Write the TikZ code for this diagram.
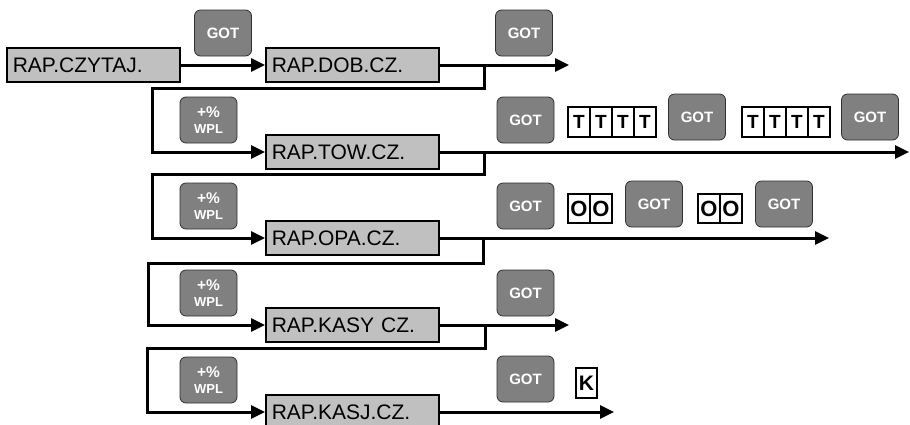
\documentclass[tikz,border=0pt]{standalone}
\usepackage{fontspec}
\setmainfont{Liberation Sans}
\usetikzlibrary{arrows.meta}
\definecolor{boxgray}{HTML}{C0C0C0}
\definecolor{keygray}{HTML}{808080}
\definecolor{keyedge}{HTML}{303030}
\begin{document}
\begin{tikzpicture}[x=1pt,y=-1pt,
  menubox/.style={draw=black, line width=1.6pt, fill=boxgray, anchor=west, minimum height=34pt, text width=161pt, inner xsep=6pt, inner ysep=0pt, align=left, font=\fontsize{21}{24}\selectfont},
  keybtn/.style={draw=keyedge, line width=0.8pt, fill=keygray, rounded corners=6pt, minimum width=57pt, minimum height=46pt, inner sep=0pt, text=white, font=\bfseries\fontsize{15}{16}\selectfont},
  wplbtn/.style={keybtn, align=center, font=\bfseries\fontsize{15.5}{16}\selectfont},
  cell/.style={draw=black, line width=1.5pt, fill=white, minimum width=22pt, minimum height=30pt, inner sep=0pt, font=\bfseries\fontsize{19}{20}\selectfont},
  flow/.style={line width=3pt, -{Triangle[length=14pt,width=13pt]}},
]
\path[use as bounding box, fill=white] (0,0) rectangle (910,424);

% menu boxes
\node[menubox] (czy) at (6,65) {RAP.CZYTAJ.};
\node[menubox] (dob) at (265,65) {RAP.DOB.CZ.};
\node[menubox] (tow) at (265,152) {RAP.TOW.CZ.};
\node[menubox] (opa) at (265,238) {RAP.OPA.CZ.};
\node[menubox] (kasy) at (265,325) {RAP.KASY CZ.};
\node[menubox] (kasj) at (265,412) {RAP.KASJ.CZ.};

% keys
\node[keybtn] (g0) at (223,33) {GOT};
\node[keybtn] (g1) at (524,33) {GOT};
\node[wplbtn] (w1) at (208.5,120) {+\%\\{\fontsize{13}{14}\selectfont WPL}};
\node[wplbtn] (w2) at (208.5,206) {+\%\\{\fontsize{13}{14}\selectfont WPL}};
\node[wplbtn] (w3) at (208.5,293) {+\%\\{\fontsize{13}{14}\selectfont WPL}};
\node[wplbtn] (w4) at (208.5,380) {+\%\\{\fontsize{13}{14}\selectfont WPL}};

\node[keybtn] (gt1) at (525.5,120) {GOT};
\node[keybtn] (gt2) at (697,117) {GOT};
\node[keybtn] (gt3) at (870,117) {GOT};
\node[keybtn] (go1) at (525.5,206) {GOT};
\node[keybtn] (go2) at (654,204) {GOT};
\node[keybtn] (go3) at (784,204) {GOT};
\node[keybtn] (gk1) at (525.5,293) {GOT};
\node[keybtn] (gk2) at (525.5,379) {GOT};

% cells
\foreach \i/\x in {1/579,2/601,3/623,4/645} \node[cell] (ta\i) at (\x,122) {T};
\foreach \i/\x in {1/753,2/775,3/797,4/819} \node[cell] (tb\i) at (\x,122) {T};
\foreach \i/\x in {1/579,2/601} \node[cell, minimum height=29pt, font=\bfseries\fontsize{22}{22}\selectfont] (oa\i) at (\x,208.5) {O};
\foreach \i/\x in {1/709,2/731} \node[cell, minimum height=29pt, font=\bfseries\fontsize{22}{22}\selectfont] (ob\i) at (\x,208.5) {O};
\node[cell, minimum width=21pt, font=\bfseries\fontsize{21}{22}\selectfont] (kk) at (586.5,383) {K};

% coordinates
\coordinate (e1) at (569,65);
\coordinate (e2) at (909,152);
\coordinate (e3) at (829,238);
\coordinate (e4) at (569,325);
\coordinate (e5) at (614,412);
\coordinate (b1) at (484,88);  \coordinate (l1) at (152,88);
\coordinate (b2) at (484,174); \coordinate (l2) at (152,174);
\coordinate (b3) at (483,263); \coordinate (l3) at (148,263);
\coordinate (b4) at (485,348); \coordinate (l4) at (147,348);

% connectors
\draw[flow] (czy.east) -- (dob.west);
\draw[flow] (dob.east) -- (e1);
\draw[flow] (dob.east -| b1) -- (b1) -- (l1) |- (tow.west);
\draw[flow] (tow.east) -- (e2);
\draw[flow] (tow.east -| b2) -- (b2) -- (l2) |- (opa.west);
\draw[flow] (opa.east) -- (e3);
\draw[flow] (opa.east -| b3) -- (b3) -- (l3) |- (kasy.west);
\draw[flow] (kasy.east) -- (e4);
\draw[flow] (kasy.east -| b4) -- (b4) -- (l4) |- (kasj.west);
\draw[flow] (kasj.east) -- (e5);
\end{tikzpicture}
\end{document}
